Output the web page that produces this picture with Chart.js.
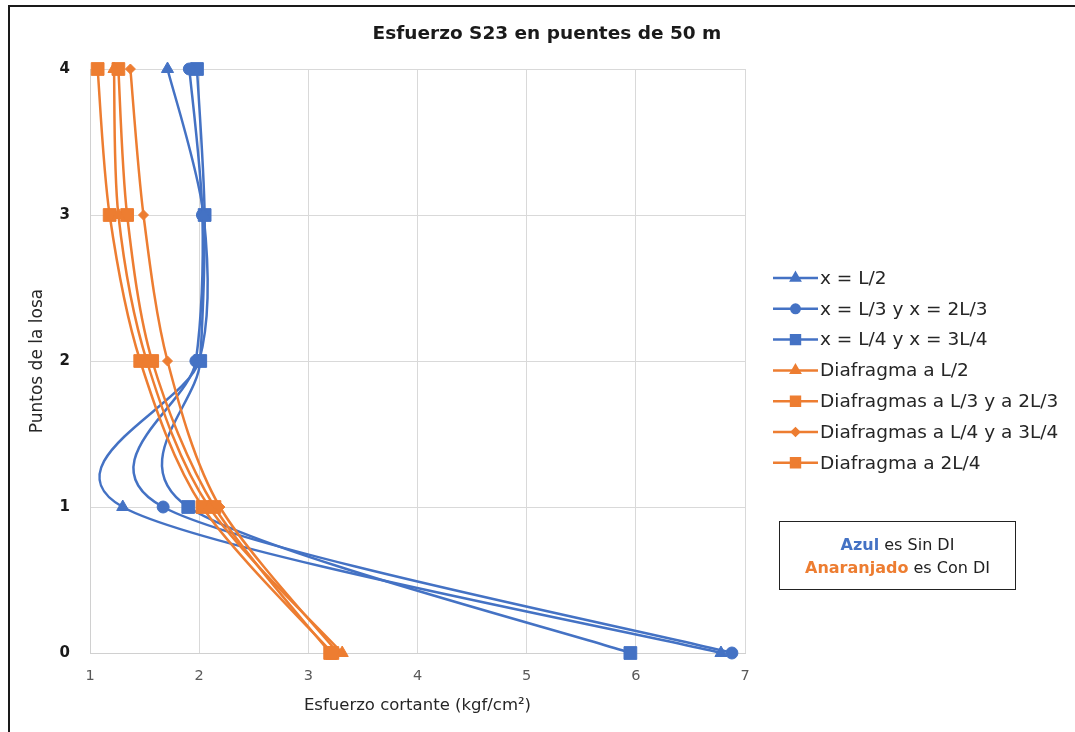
<!DOCTYPE html>
<html>
<head>
<meta charset="utf-8">
<script src="https://cdn.jsdelivr.net/npm/chart.js@4.4.0/dist/chart.umd.min.js"></script>
<style>
  html, body { margin: 0; padding: 0; background: #fff; }
  #wrap { position: relative; width: 1075px; height: 732px; overflow: hidden; }
  #frame {
    position: absolute; left: 8px; top: 5px; right: -5px; bottom: -5px;
    border-top: 2px solid #1a1a1a; border-left: 2px solid #1a1a1a; pointer-events: none;
  }
  #note {
    position: absolute; left: 779px; top: 521px; width: 237px; height: 69px;
    border: 1px solid #222; box-sizing: border-box;
    font-family: "DejaVu Sans", sans-serif; font-size: 16px; color: #222;
    text-align: center; line-height: 23px; padding-top: 11px;
  }
  #note b { font-weight: bold; }
</style>
</head>
<body>
<div id="wrap">
  <canvas id="chart" width="1075" height="732"></canvas>
  <div id="frame"></div>
  <div id="note">
    <div><b style="color:#4472C4">Azul</b> es Sin DI</div>
    <div><b style="color:#ED7D31">Anaranjado</b> es Con DI</div>
  </div>
</div>
<script>
// Puntos de la losa (eje Y)
const puntos = [0, 1, 2, 3, 4];

// Sin DI (azul)
const xL2 = [6.78, 1.30, 2.00, 2.04, 1.71];
const xL3 = [6.88, 1.67, 1.97, 2.03, 1.91];
const xL4 = [5.95, 1.90, 2.01, 2.05, 1.98];

// Con DI (anaranjado)
const diafL2 = [3.31, 2.09, 1.52, 1.26, 1.22];
const diafL3 = [3.22, 2.03, 1.46, 1.18, 1.07];
const diafL4 = [3.27, 2.19, 1.71, 1.49, 1.37];
const diaf2L4 = [3.20, 2.14, 1.57, 1.34, 1.26];

const xTicks = [1, 2, 3, 4, 5, 6, 7];

const BLUE = "#4472C4";
const ORANGE = "#ED7D31";

function serie(label, xs, color, style, radius, order) {
  return {
    label: label,
    data: xs.map((x, i) => ({ x: x, y: puntos[i] })),
    showLine: true,
    tension: 0.4,
    borderColor: color,
    backgroundColor: color,
    borderWidth: 2.5,
    pointStyle: style,
    pointRadius: radius,
    pointBorderWidth: 1,
    pointHoverRadius: radius,
    clip: false,
    order: order
  };
}

const datasets = [
  serie("x = L/2", xL2, BLUE, "triangle", 7, 2),
  serie("x = L/3 y x = 2L/3", xL3, BLUE, "circle", 6, 2),
  serie("x = L/4 y x = 3L/4", xL4, BLUE, "rect", 9, 2),
  serie("Diafragma a L/2", diafL2, ORANGE, "triangle", 7, 1),
  serie("Diafragmas a L/3 y a 2L/3", diafL3, ORANGE, "rect", 9, 1),
  serie("Diafragmas a L/4 y a 3L/4", diafL4, ORANGE, "rectRot", 5, 1),
  serie("Diafragma a 2L/4", diaf2L4, ORANGE, "rect", 9, 1)
];

// suavizado tipo Excel (Catmull-Rom) sobre los puntos ya escalados
const SUAVE = 0.15;
const suavizado = {
  id: "suavizado",
  beforeDatasetsDraw(chart) {
    chart.getSortedVisibleDatasetMetas().forEach(meta => {
      const line = meta.dataset;
      if (!line) return;
      line.updateControlPoints(chart.chartArea, meta.indexAxis);
      const pts = meta.data;
      pts.forEach((p, i) => {
        const prev = pts[i - 1] || p;
        const next = pts[i + 1] || p;
        const dx = (next.x - prev.x) * SUAVE, dy = (next.y - prev.y) * SUAVE;
        p.cp1x = p.x - dx; p.cp1y = p.y - dy;
        p.cp2x = p.x + dx; p.cp2y = p.y + dy;
      });
    });
  }
};

// titulo y leyenda dibujados a mano
const extras = {
  id: "extras",
  afterDraw(chart) {
    const ctx = chart.ctx;
    ctx.save();
    ctx.fillStyle = "#1a1a1a";
    ctx.font = "bold 18.5px 'DejaVu Sans'";
    ctx.textAlign = "center";
    ctx.textBaseline = "middle";
    ctx.fillText("Esfuerzo S23 en puentes de 50 m", 547, 34);

    const y0 = 278, dy = 30.8;
    ctx.font = "18.5px 'DejaVu Sans'";
    ctx.textAlign = "left";
    chart.data.datasets.forEach((ds, i) => {
      const y = y0 + i * dy;
      ctx.strokeStyle = ds.borderColor;
      ctx.lineWidth = 2.5;
      ctx.beginPath();
      ctx.moveTo(773, y);
      ctx.lineTo(818, y);
      ctx.stroke();
      ctx.fillStyle = ds.backgroundColor;
      Chart.helpers.drawPoint(ctx, {
        pointStyle: ds.pointStyle, radius: ds.pointRadius * 0.7, rotation: 0, borderWidth: 1
      }, 795.5, y);
      ctx.fillStyle = "#262626";
      ctx.fillText(ds.label, 820, y + 1);
    });
    ctx.restore();
  }
};

new Chart(document.getElementById("chart"), {
  type: "scatter",
  data: { datasets: datasets },
  plugins: [suavizado, extras],
  options: {
    responsive: false,
    animation: false,
    events: [],
    layout: { padding: { top: 69, right: 330, left: 0, bottom: 0 } },
    plugins: { legend: { display: false }, title: { display: false }, tooltip: { enabled: false } },
    scales: {
      x: {
        type: "linear", min: 1, max: 7,
        afterFit: s => { s.height = 79; },
        afterBuildTicks: s => { s.ticks = xTicks.map(v => ({ value: v })); },
        grid: { color: "#d9d9d9", drawTicks: false },
        border: { color: "#d0d0d0" },
        ticks: { padding: 15, color: "#595959", font: { family: "DejaVu Sans", size: 14.5 } },
        title: {
          display: true, text: "Esfuerzo cortante (kgf/cm²)", color: "#262626",
          font: { family: "DejaVu Sans", size: 16.5 }, padding: { top: 0, bottom: 16 }
        }
      },
      y: {
        type: "linear", min: 0, max: 4,
        afterFit: s => { s.width = 90; },
        ticks: { stepSize: 1, padding: 20, color: "#1a1a1a", font: { family: "DejaVu Sans", size: 15, weight: "bold" } },
        grid: { color: "#d9d9d9", drawTicks: false },
        border: { color: "#d0d0d0" },
        title: {
          display: true, text: "Puntos de la losa", color: "#262626",
          font: { family: "DejaVu Sans", size: 17 }, padding: { top: 27, bottom: 0 }
        }
      }
    }
  }
});
</script>
</body>
</html>
